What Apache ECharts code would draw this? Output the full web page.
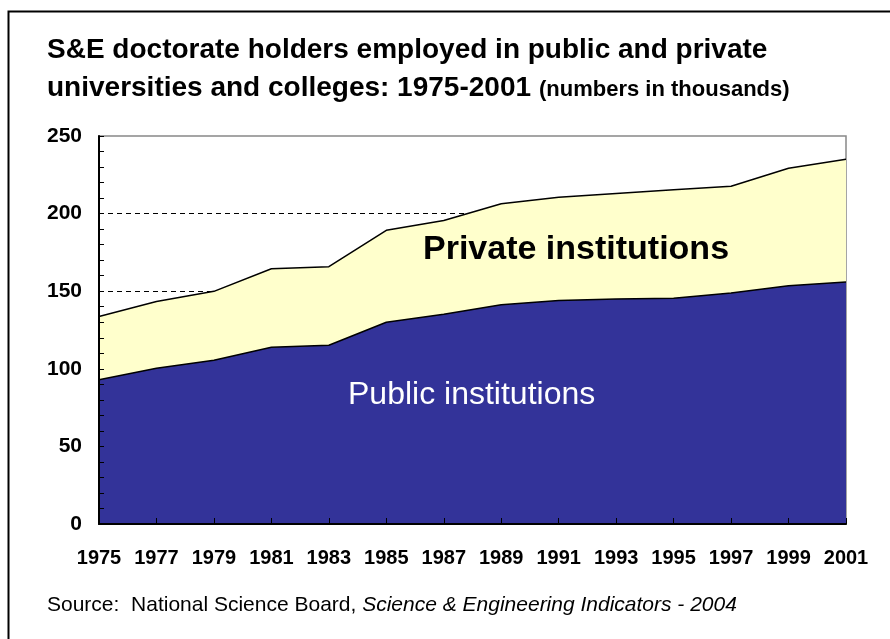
<!DOCTYPE html>
<html>
<head>
<meta charset="utf-8">
<script src="https://cdn.jsdelivr.net/npm/echarts@6/dist/echarts.min.js"></script>
<style>
html,body{margin:0;padding:0;background:#fff;}
#chart{width:890px;height:639px;}
</style>
</head>
<body>
<div id="chart"></div>
<script>
var years = ['1975','1977','1979','1981','1983','1985','1987','1989','1991','1993','1995','1997','1999','2001'];
var publicInst = [92.9,100.4,105.5,113.9,115.2,130.0,135.2,141.3,144.0,145.0,145.4,148.8,153.5,155.9];
var privateInst = [40.8,43.0,44.4,50.6,50.6,59.2,60.3,65.1,66.5,68.0,69.9,68.8,75.7,79.1];
var yTicks = [0,50,100,150,200,250];

var F = '"Liberation Sans",Arial,sans-serif';

var chart = echarts.init(document.getElementById('chart'), null, {renderer:'canvas'});
chart.setOption({
  animation:false,
  backgroundColor:'#fff',
  grid:{left:99, top:136, right:44, bottom:115, show:true, borderColor:'#888', borderWidth:1.5, backgroundColor:'transparent'},
  xAxis:{
    type:'category', data:years, boundaryGap:false, z:10,
    axisLine:{lineStyle:{color:'#000', width:2}},
    axisTick:{inside:true, length:6, lineStyle:{color:'#000', width:1}},
    axisLabel:{color:'#000', fontFamily:F, fontWeight:'bold', fontSize:20, margin:24, interval:0},
    splitLine:{show:false}
  },
  yAxis:[
    {
      type:'value', min:yTicks[0], max:yTicks[yTicks.length-1], interval:50, z:0,
      axisLine:{show:false}, axisTick:{show:false}, axisLabel:{show:false},
      splitLine:{show:true, lineStyle:{type:[5,4], width:1, color:['transparent','transparent','transparent','#000','#000','transparent']}}
    },
    {
      type:'value', position:'left', min:yTicks[0], max:yTicks[yTicks.length-1], interval:50, z:10,
      axisLine:{show:true, lineStyle:{color:'#000', width:2}},
      axisTick:{show:true, inside:true, length:5, lineStyle:{color:'#000'}},
      minorTick:{show:true, splitNumber:5, length:5, lineStyle:{color:'#000'}},
      axisLabel:{color:'#000', fontFamily:F, fontWeight:'bold', fontSize:21, margin:17},
      splitLine:{show:false}
    }
  ],
  series:[
    {name:'Public institutions', type:'line', stack:'t', data:publicInst, symbol:'none',
     lineStyle:{color:'#000', width:1.5}, areaStyle:{color:'#333399', opacity:1}, z:3},
    {name:'Private institutions', type:'line', stack:'t', data:privateInst, symbol:'none',
     lineStyle:{color:'#000', width:1.5}, areaStyle:{color:'#FFFFCC', opacity:1}, z:2}
  ],
  graphic:[
    {type:'rect', left:6, top:9, shape:{width:900, height:660}, style:{fill:'none', stroke:'#000', lineWidth:2}, z:100},
    {type:'text', left:47, top:36, style:{text:'S&E doctorate holders employed in public and private', font:'bold 28px '+F, fill:'#000'}},
    {type:'text', left:47, top:74, style:{rich:{a:{font:'bold 28px '+F, fill:'#000'}, b:{font:'bold 22px '+F, fill:'#000', padding:[4,0,0,8]}}, text:'{a|universities and colleges: 1975-2001}{b|(numbers in thousands)}'}},
    {type:'text', left:423, top:233, z:50, style:{text:'Private institutions', font:'bold 34px '+F, fill:'#000'}},
    {type:'text', left:348, top:379, z:50, style:{text:'Public institutions', font:'32px '+F, fill:'#fff'}},
    {type:'text', left:47, top:595, style:{rich:{a:{font:'21px '+F, fill:'#000'}, b:{font:'italic 21px '+F, fill:'#000'}}, text:'{a|Source:  National Science Board, }{b|Science & Engineering Indicators - 2004}'}}
  ]
});
</script>
</body>
</html>
